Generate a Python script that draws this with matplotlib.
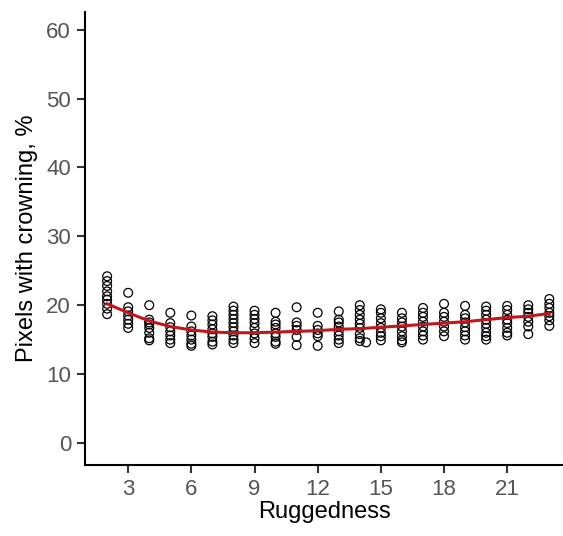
import matplotlib.pyplot as plt

# values, one list per ruggedness level
ruggedness = list(range(2, 24))
crowning = [
    [24.2, 23.5, 22.8, 22.0, 21.3, 20.8, 20.2, 19.5, 18.7],
    [21.8, 19.7, 19.1, 18.5, 17.9, 17.3, 16.7],
    [20.0, 17.9, 17.5, 17.2, 16.7, 16.0, 15.2, 14.9],
    [18.9, 17.4, 16.8, 16.2, 15.6, 15.0, 14.5],
    [18.5, 16.9, 16.2, 15.6, 15.0, 14.4, 14.1],
    [18.4, 17.8, 17.2, 16.5, 15.9, 15.4, 14.7, 14.3],
    [19.8, 19.2, 18.6, 18.0, 17.4, 16.8, 16.2, 15.6, 15.0, 14.5],
    [19.2, 18.6, 18.0, 17.4, 16.7, 15.9, 15.2, 14.5],
    [18.9, 17.6, 17.2, 16.7, 15.9, 15.4, 14.7, 14.4],
    [19.7, 17.5, 17.0, 16.4, 15.4, 14.2],
    [18.9, 17.0, 16.4, 15.9, 15.5, 14.1],
    [19.1, 17.9, 17.5, 16.9, 16.2, 15.6, 15.0, 14.5],
    [20.0, 19.3, 18.6, 17.9, 17.3, 16.7, 15.8, 15.2, 14.8],
    [19.4, 18.9, 18.1, 17.4, 16.7, 16.0, 15.5, 14.9],
    [18.9, 18.1, 17.5, 16.9, 16.2, 15.5, 14.9, 14.6],
    [19.6, 18.9, 18.3, 17.6, 16.9, 16.2, 15.6, 15.0],
    [20.2, 18.9, 18.3, 17.6, 16.9, 16.2, 15.5],
    [19.9, 18.6, 18.1, 17.5, 16.8, 16.2, 15.6, 15.0],
    [19.8, 19.2, 18.6, 17.9, 17.3, 16.7, 16.0, 15.5, 15.0],
    [19.9, 19.3, 18.6, 17.9, 17.4, 16.7, 16.0, 15.6],
    [20.0, 19.4, 18.9, 18.3, 17.6, 16.9, 15.8],
    [20.9, 20.2, 19.6, 18.9, 18.4, 17.8, 17.0],
]
# smoothed trend line
trend = [20.2, 18.9, 17.7, 16.9, 16.4, 16.1, 16.0, 16.0, 16.1, 16.2, 16.3,
         16.5, 16.6, 16.8, 17.0, 17.2, 17.4, 17.6, 17.9, 18.2, 18.4, 18.8]
extra_x = [14.3]
extra_y = [14.6]

plt.rcParams['font.family'] = ['Liberation Sans', 'DejaVu Sans']

fig = plt.figure(figsize=(5.63, 5.36), dpi=100)
ax = fig.add_axes([0.151, 0.1325, 0.849, 0.8455])

xs, ys = [], []
for r, vals in zip(ruggedness, crowning):
    xs += [r] * len(vals)
    ys += vals
xs += extra_x
ys += extra_y

ax.scatter(xs, ys, s=40, facecolors='none', edgecolors='black',
           linewidths=0.9, zorder=2)
ax.plot(ruggedness, trend, color='#c3161c', lw=2.2, zorder=3)

ax.set_xlim(0.95, 23.65)
ax.set_ylim(-3.2, 62.6)
ax.set_xticks([3, 6, 9, 12, 15, 18, 21])
ax.set_yticks([0, 10, 20, 30, 40, 50, 60])

for side in ['top', 'right']:
    ax.spines[side].set_visible(False)
for side in ['left', 'bottom']:
    ax.spines[side].set_linewidth(1.5)

ax.tick_params(length=6, width=1.5, labelsize=16, labelcolor='#555555',
               color='#333333', pad=4)
ax.set_xlabel('Ruggedness', fontsize=17, labelpad=1)
ax.set_ylabel('Pixels with crowning, %', fontsize=17, labelpad=6)

fig.savefig('out.png', dpi=100)
